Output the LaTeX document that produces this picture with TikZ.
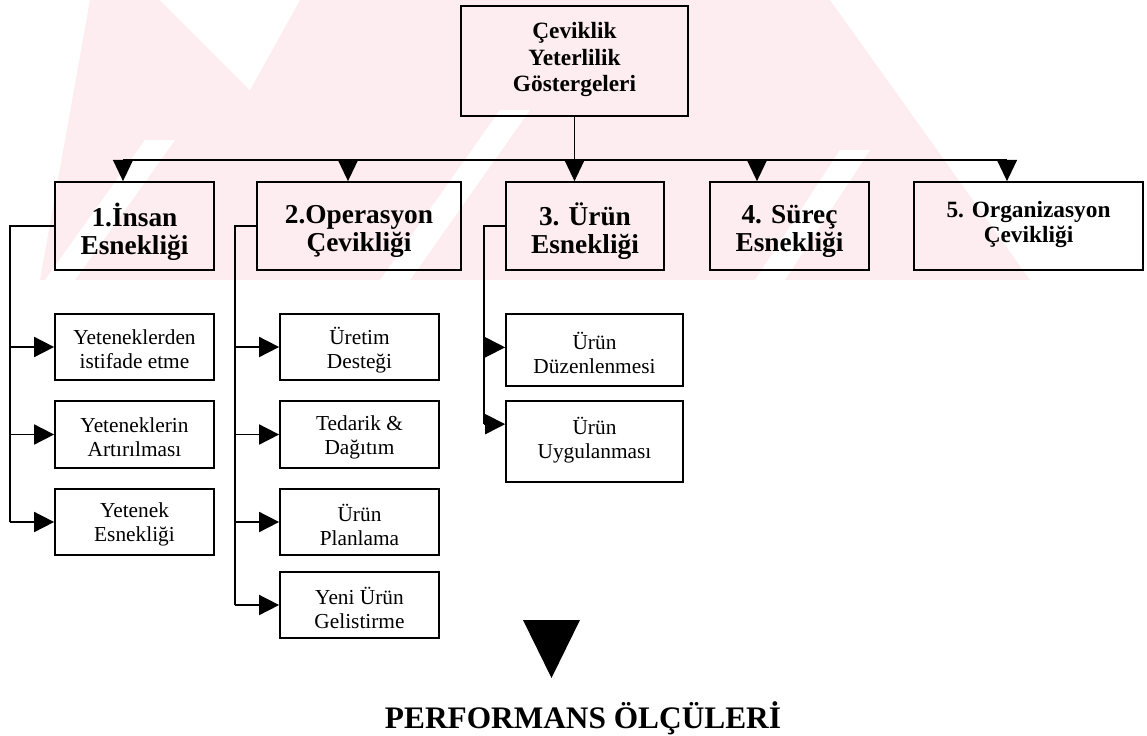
\documentclass[tikz,border=0pt]{standalone}
\usepackage{fontspec}
\setmainfont{Liberation Serif}
\usetikzlibrary{arrows.meta}
\definecolor{wmpink}{RGB}{253,236,240}
\begin{document}
\begin{tikzpicture}[x=0.75pt,y=-0.75pt,
  size/.style 2 args={minimum width=#1*0.75pt, minimum height=#2*0.75pt},
  box/.style={draw, line width=1.3pt, inner sep=0pt},
  txt/.style={inner sep=0pt, align=center},
  headtxt/.style={txt, font=\bfseries\fontsize{20.5}{21}\selectfont},
  toptxt/.style={txt, font=\bfseries\fontsize{17.5}{20}\selectfont},
  subtxt/.style={txt, font=\fontsize{16}{18}\selectfont},
  link/.style={line width=1.3pt},
  down/.style={link, -{Triangle[length=16pt,width=15pt]}},
  side/.style={link, -{Triangle[length=15pt,width=15pt]}},
]
\useasboundingbox (0,0) rectangle (1147,736);

% faint background emblem
\begin{scope}
  \clip (0,0) rectangle (1147,280);
  \fill[wmpink] (90,0) -- (830,0) -- (1030,280) -- (40,280) -- cycle;
  \fill[white] (160,0) -- (300,0) -- (250,90) -- cycle;
  \fill[white] (45,280) -- (75,280) -- (175,140) -- (145,140) -- cycle;
  \fill[white] (380,280) -- (410,280) -- (530,110) -- (500,110) -- cycle;
  \fill[white] (755,280) -- (785,280) -- (870,150) -- (840,150) -- cycle;
\end{scope}

% main indicator
\node[box, size={227}{110}] (top) at (574.5,61) {};
\node[toptxt] (ttop) at ([yshift=1pt]top.center) {Çeviklik\\Yeterlilik\\Göstergeleri};

% five dimensions
\node[box, size={159}{88}] (b1) at (134.5,226) {};
\node[box, size={204}{88}] (b2) at (359,226) {};
\node[box, size={158}{88}] (b3) at (585,226) {};
\node[box, size={159}{88}] (b4) at (789.5,226) {};
\node[box, size={229}{88}] (b5) at (1028.5,226) {};
\node[headtxt] (tb1) at ([yshift=-4pt]b1.center) {1.İnsan\\Esnekliği};
\node[headtxt] (tb2) at ([yshift=-4pt]b2.center) {2.Operasyon\\Çevikliği};
\node[headtxt] (tb3) at ([yshift=-4pt]b3.center) {3. Ürün\\Esnekliği};
\node[headtxt] (tb4) at ([yshift=-4pt]b4.center) {4. Süreç\\Esnekliği};
\node[txt, font=\bfseries\fontsize{17.5}{19}\selectfont] (tb5)
  at ([yshift=1pt]b5.center) {5. Organizasyon\\Çevikliği};

% sub-items
\node[box, size={159}{66}] (c11) at (134.5,347) {};
\node[box, size={159}{67}] (c12) at (134.5,434.5) {};
\node[box, size={159}{66}] (c13) at (134.5,522) {};
\node[box, size={159}{66}] (c21) at (359.5,347) {};
\node[box, size={159}{67}] (c22) at (359.5,434.5) {};
\node[box, size={159}{66}] (c23) at (359.5,522) {};
\node[box, size={159}{66}] (c24) at (359.5,605) {};
\node[box, size={177}{72}] (c31) at (594.5,350) {};
\node[box, size={177}{81}] (c32) at (594.5,441.5) {};

\node[subtxt] (tc11) at ([yshift=-2pt]c11.center) {Yeteneklerden\\istifade etme};
\node[subtxt] (tc12) at ([yshift=-2pt]c12.center) {Yeteneklerin\\Artırılması};
\node[subtxt] (tc13) at ([yshift=-2pt]c13.center) {Yetenek\\Esnekliği};
\node[subtxt] (tc21) at ([yshift=-2pt]c21.center) {Üretim\\Desteği};
\node[subtxt] (tc22) at ([yshift=-2pt]c22.center) {Tedarik \&\\Dağıtım};
\node[subtxt] (tc23) at ([yshift=-2pt]c23.center) {Ürün\\Planlama};
\node[subtxt] (tc24) at ([yshift=-2pt]c24.center) {Yeni Ürün\\Gelistirme};
\node[subtxt] (tc31) at ([yshift=-2pt]c31.center) {Ürün\\Düzenlenmesi};
\node[subtxt] (tc32) at ([yshift=1pt]c32.center) {Ürün\\Uygulanması};

% bus from the main indicator to the dimensions
\coordinate (j1) at (123,160);
\coordinate (j2) at (348,160);
\coordinate (j3) at (574.5,160);
\coordinate (j4) at (757,160);
\coordinate (j5) at (1007,160);
\draw[link, line width=1pt] (top.south) -- (j3);
\draw[link] (j1) -- (j5);
\foreach \i in {1,...,5} \draw[down] (j\i) -- (j\i |- b\i.north);

% branches to the sub-items
\coordinate (v1) at (10,0);
\coordinate (v2) at (235,0);
\coordinate (v3) at (484,0);
\draw[link] (b1.west) -| (v1 |- c13.west);
\foreach \k in {11,12,13} \draw[side] (v1 |- c\k.west) -- (c\k.west);
\draw[link] (b2.west) -| (v2 |- c24.west);
\foreach \k in {21,22,23,24} \draw[side] (v2 |- c\k.west) -- (c\k.west);
\coordinate (a31) at ([yshift=2pt]c31.west);
\coordinate (a32) at ([yshift=13pt]c32.west);
\draw[link] (b3.west) -| (v3 |- a32);
\draw[side] (v3 |- a31) -- (a31);
\draw[side] (v3 |- a32) -- (a32);

% result
\node[font=\bfseries\fontsize{23.5}{24}\selectfont, anchor=base, inner sep=0pt]
  (perf) at (583,728) {PERFORMANS ÖLÇÜLERİ};
\coordinate (tri) at (551.5,620);
\fill ([xshift=-28.5*0.75pt]tri) -- ([xshift=28.5*0.75pt]tri) -- ([yshift=-58*0.75pt]tri) -- cycle;
\end{tikzpicture}
\end{document}
